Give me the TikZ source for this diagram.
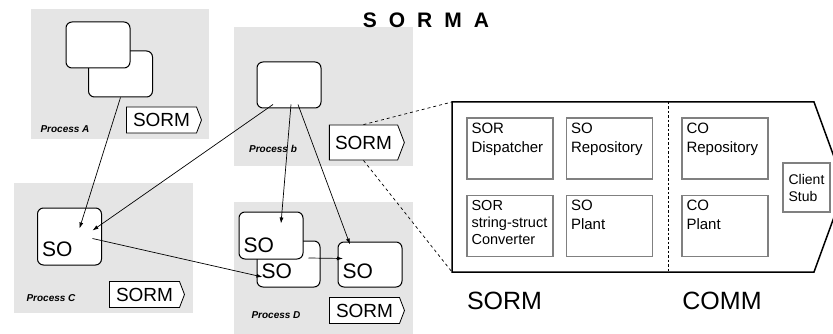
\documentclass[tikz,border=0pt]{standalone}
\usepackage{fontspec}
\setmainfont{Liberation Sans}
\usetikzlibrary{shapes.symbols,arrows.meta,calc}
\begin{document}
\begin{tikzpicture}[x=1pt,y=-1pt,
    proc/.style={fill=black!10},
    plabel/.style={font=\fontsize{10}{12}\selectfont\bfseries\itshape, inner sep=0pt},
    sobox/.style={draw, fill=white, rounded corners=6pt, line width=1pt,
      minimum width=64pt, minimum height=46pt, inner sep=0pt},
    sotext/.style={font=\fontsize{21}{24}\selectfont, inner sep=0pt,
      anchor=base west, xshift=5pt, yshift=9pt},
    sormtag/.style={signal, signal to=east, signal pointer angle=138, draw,
      fill=white, line width=0.8pt, minimum width=75pt, minimum height=26pt,
      inner sep=2pt, font=\fontsize{19}{22}\selectfont},
    part/.style={draw=black!50, line width=1.3pt, minimum width=86pt,
      minimum height=61pt, inner sep=0pt},
    parttext/.style={align=left, font=\fontsize{15}{19}\selectfont, inner sep=5pt},
    link/.style={-{Latex[length=6pt,width=4pt]}, line width=0.7pt},
    zoomline/.style={dash pattern=on 3pt off 3pt, line width=0.7pt}]
  \useasboundingbox (0,0) rectangle (833,334);
  \clip (0,0) rectangle (833,334);

  \fill[proc] (31,9) rectangle (209,139);
  \fill[proc] (234,27) rectangle (413,166);
  \fill[proc] (14,183) rectangle (193,313);
  \fill[proc] (234,202) rectangle (413,340);

  \node[font=\fontsize{21}{24}\selectfont\bfseries] (title) at (426,20)
    {S\hspace{12pt}O\hspace{12pt}R\hspace{12pt}M\hspace{12pt}A};

  \draw
    (120.5,74) node[sobox] (boxA2) {}
    (98,45) node[sobox] (boxA1) {}
    (161.5,120) node[sormtag] (tagA) {SORM}
    (65,129) node[plabel] (procA) {Process A}
    (289,85) node[sobox] (boxB) {}
    (363.5,142.5) node[sormtag, minimum height=35pt] (tagB) {SORM}
    (273,149) node[plabel] (procB) {Process b}
    (69.5,236.5) node[sobox, minimum height=57pt,
      label={[sotext]south west:SO}] (soC) {}
    (144.5,294.5) node[sormtag] (tagC) {SORM}
    (51,298) node[plabel] (procC) {Process C}
    (288.5,264) node[sobox, minimum width=63pt,
      label={[sotext]south west:SO}] (soD2) {}
    (271,235.5) node[sobox, minimum height=47pt,
      label={[sotext, yshift=-2pt]south west:SO}] (soD1) {}
    (370,264.5) node[sobox, minimum height=45pt,
      label={[sotext]south west:SO}] (soD3) {}
    (364.5,310.5) node[sormtag] (tagD) {SORM}
    (276,315) node[plabel] (procD) {Process D};

  \coordinate (sormNW) at (452,102);
  \coordinate (sormSW) at (452,272);
  \draw[line width=1.5pt, line join=miter]
    (sormNW) -- (814,102) -- (845,187) -- (814,272) -- (sormSW) -- cycle;
  \draw[dash pattern=on 2.5pt off 2pt, line width=0.7pt] (668,102) -- (668,272);

  \draw
    (510,148.5) node[part, label={[parttext, anchor=north west]north west:{SOR\\Dispatcher}}] (disp) {}
    (609.5,148.5) node[part, label={[parttext, anchor=north west]north west:{SO\\Repository}}] (sorep) {}
    (725,148.5) node[part, label={[parttext, anchor=north west]north west:{CO\\Repository}}] (corep) {}
    (510,226) node[part, label={[parttext, anchor=north west, font=\fontsize{14.5}{17}\selectfont]north west:{SOR\\string-struct\\Converter}}] (conv) {}
    (609.5,226) node[part, label={[parttext, anchor=north west]north west:{SO\\Plant}}] (soplant) {}
    (725,226) node[part, label={[parttext, anchor=north west]north west:{CO\\Plant}}] (coplant) {}
    (806.5,187.5) node[part, minimum width=47pt, minimum height=49pt, align=left,
      font=\fontsize{14}{17}\selectfont] (stub) {Client\\Stub}
    (504.5,301) node[font=\fontsize{25}{30}\selectfont] (sorm) {SORM}
    (722,301) node[font=\fontsize{25}{30}\selectfont] (comm) {COMM};

  \begin{scope}[zoomline]
    \draw (tagB.north) to (sormNW);
    \draw (tagB.south) to (sormSW);
  \end{scope}

  \begin{scope}[link]
    \draw (boxA2.south) to ($(soC.center)+(10,-8)$);
    \draw ($(boxB.south)+(-16,-4)$) to ($(soC.center)+(23,-6)$);
    \draw ($(boxB.south)+(2,-4)$) to ($(soD1.center)+(10,-12)$);
    \draw ($(boxB.south)+(9,-4)$) to ($(soD3.center)+(-20,-20)$);
    \draw ($(soC.center)+(23,2)$) to ($(soD2.center)+(-26,13)$);
    \draw ($(soD2.center)+(20,-6)$) to ($(soD3.center)+(-27,-6)$);
  \end{scope}
\end{tikzpicture}
\end{document}
